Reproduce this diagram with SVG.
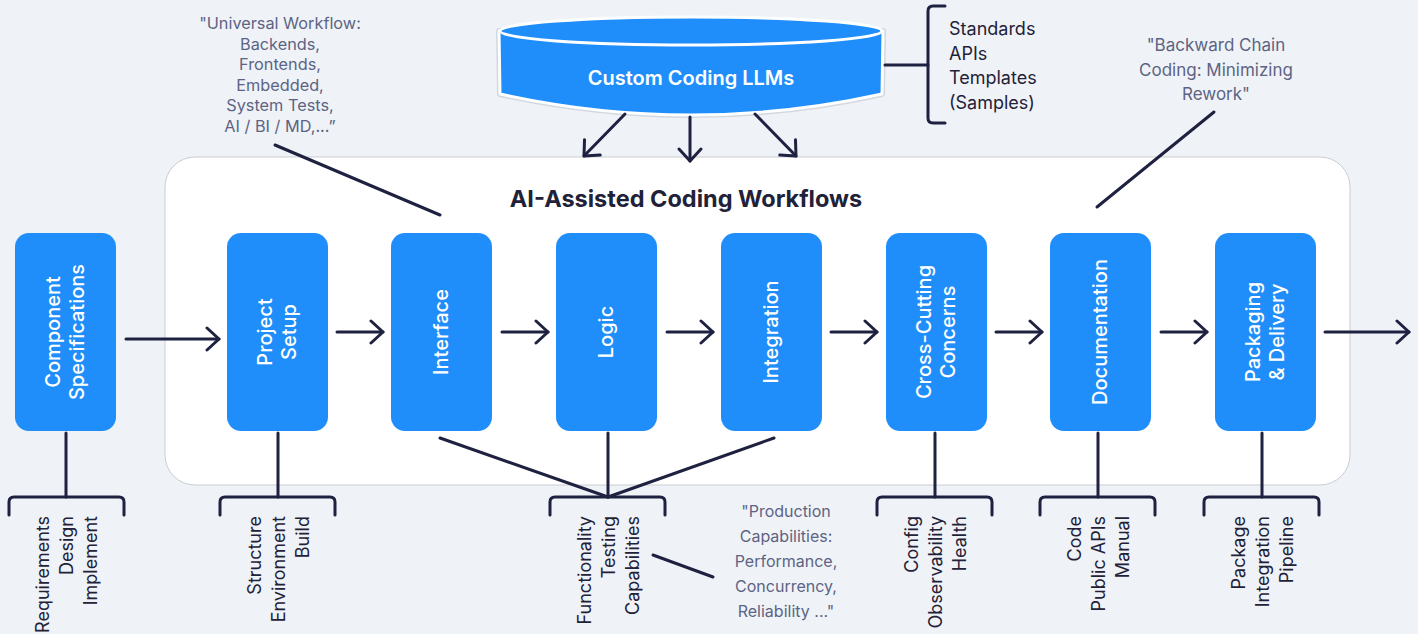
<svg xmlns="http://www.w3.org/2000/svg" width="1418" height="634" viewBox="0 0 1418 634">
<defs>
<style>
.bg{fill:#eff3f7}
.panel{fill:#ffffff;stroke:#c9cdd3;stroke-width:1}
.box{fill:#1f8efa}
.lbl{font-family:Inter,"Liberation Sans",sans-serif;font-size:20px;font-weight:500;fill:#ffffff}
.ln{stroke:#1f2140;stroke-width:3;fill:none;stroke-linecap:round;stroke-linejoin:round}
.arr{stroke:#1f2140;stroke-width:3;fill:none;stroke-linecap:round;marker-end:url(#ah)}
.sub{font-family:Inter,"Liberation Sans",sans-serif;font-size:18px;fill:#1f2238}
.note{font-family:Inter,"Liberation Sans",sans-serif;fill:#5d6384}
.title{font-family:Inter,"Liberation Sans",sans-serif;font-size:23.5px;font-weight:700;fill:#1f2238}
</style>
<marker id="ah" viewBox="-14 -14 17 28" markerWidth="17" markerHeight="28" refX="0" refY="0" orient="auto" markerUnits="userSpaceOnUse">
<path d="M-12,-11 L0,0 L-12,11" fill="none" stroke="#1f2140" stroke-width="3" stroke-linecap="round" stroke-linejoin="round"/>
</marker>
</defs>
<rect class="bg" x="0" y="0" width="1418" height="634"/>
<g id="panel">
<rect class="panel" x="165" y="157" width="1185" height="328" rx="30"/>
<text class="title" x="686" y="207" text-anchor="middle">AI-Assisted Coding Workflows</text>
</g>
<g id="llm">
<path d="M499,31 L500,94 Q691,136 882,94 L883,31 Z" fill="#1f8efa" stroke="#d3d8df" stroke-width="6" stroke-linejoin="round"/>
<path d="M499,31 L500,94 Q691,136 882,94 L883,31 Z" fill="#1f8efa" stroke="#ffffff" stroke-width="3" stroke-linejoin="round"/>
<ellipse cx="691" cy="31" rx="191" ry="14" fill="#1f8efa" stroke="#ffffff" stroke-width="3"/>
<text x="691" y="85" text-anchor="middle" font-family="Inter,'Liberation Sans',sans-serif" font-size="20" font-weight="600" fill="#ffffff">Custom Coding LLMs</text>
</g>
<g id="resources">
<path class="ln" d="M945,6 H933 Q928,6 928,11 V118 Q928,123 933,123 H945"/>
<text class="sub"><tspan x="949" y="35">Standards</tspan><tspan x="949" y="60">APIs</tspan><tspan x="949" y="84">Templates</tspan><tspan x="949" y="109">(Samples)</tspan></text>
</g>
<g id="note-universal">
<text class="note" font-size="16.3" text-anchor="middle"><tspan x="280" y="29">"Universal Workflow:</tspan><tspan x="280" y="50">Backends,</tspan><tspan x="280" y="70">Frontends,</tspan><tspan x="280" y="91">Embedded,</tspan><tspan x="280" y="111">System Tests,</tspan><tspan x="280" y="132">AI / BI / MD,...”</tspan></text>
</g>
<g id="note-backward">
<text class="note" font-size="17" text-anchor="middle"><tspan x="1216" y="51">"Backward Chain</tspan><tspan x="1216" y="76">Coding: Minimizing</tspan><tspan x="1216" y="100">Rework"</tspan></text>
</g>
<g id="note-production">
<text class="note" font-size="16" text-anchor="middle"><tspan x="786" y="517">"Production</tspan><tspan x="786" y="542">Capabilities:</tspan><tspan x="786" y="567">Performance,</tspan><tspan x="786" y="592">Concurrency,</tspan><tspan x="786" y="617">Reliability ..."</tspan></text>
</g>
<g id="n-spec">
<rect class="box" x="15" y="233" width="101" height="198" rx="14"/>
<text class="lbl" transform="translate(65.5,332) rotate(-90)" text-anchor="middle"><tspan x="0" y="-5.5">Component</tspan><tspan x="0" y="18.5">Specifications</tspan></text>
</g>
<g id="n-setup">
<rect class="box" x="227" y="233" width="101" height="198" rx="14"/>
<text class="lbl" transform="translate(277.5,332) rotate(-90)" text-anchor="middle"><tspan x="0" y="-5.5">Project</tspan><tspan x="0" y="18.5">Setup</tspan></text>
</g>
<g id="n-interface">
<rect class="box" x="391" y="233" width="101" height="198" rx="14"/>
<text class="lbl" transform="translate(441.5,332) rotate(-90)" text-anchor="middle" y="6.5">Interface</text>
</g>
<g id="n-logic">
<rect class="box" x="556" y="233" width="101" height="198" rx="14"/>
<text class="lbl" transform="translate(606.5,332) rotate(-90)" text-anchor="middle" y="6.5">Logic</text>
</g>
<g id="n-integration">
<rect class="box" x="721" y="233" width="101" height="198" rx="14"/>
<text class="lbl" transform="translate(771.5,332) rotate(-90)" text-anchor="middle" y="6.5">Integration</text>
</g>
<g id="n-cross">
<rect class="box" x="886" y="233" width="101" height="198" rx="14"/>
<text class="lbl" transform="translate(936.5,332) rotate(-90)" text-anchor="middle"><tspan x="0" y="-5.5">Cross-Cutting</tspan><tspan x="0" y="18.5">Concerns</tspan></text>
</g>
<g id="n-doc">
<rect class="box" x="1050" y="233" width="101" height="198" rx="14"/>
<text class="lbl" transform="translate(1100.5,332) rotate(-90)" text-anchor="middle" y="6.5">Documentation</text>
</g>
<g id="n-pack">
<rect class="box" x="1215" y="233" width="101" height="198" rx="14"/>
<text class="lbl" transform="translate(1265.5,332) rotate(-90)" text-anchor="middle"><tspan x="0" y="-5.5">Packaging</tspan><tspan x="0" y="18.5">&amp; Delivery</tspan></text>
</g>
<g id="sub-spec">
<path class="ln" d="M9,515 V502 Q9,497 14,497 H119 Q124,497 124,502 V515"/>
<text class="sub" transform="translate(66,516) rotate(-90)" text-anchor="end"><tspan x="0" y="-17.5">Requirements</tspan><tspan x="0" y="6.5">Design</tspan><tspan x="0" y="30.5">Implement</tspan></text>
</g>
<g id="sub-setup">
<path class="ln" d="M220,515 V502 Q220,497 225,497 H330 Q335,497 335,502 V515"/>
<text class="sub" transform="translate(278,516) rotate(-90)" text-anchor="end"><tspan x="0" y="-17.5">Structure</tspan><tspan x="0" y="6.5">Environment</tspan><tspan x="0" y="30.5">Build</tspan></text>
</g>
<g id="sub-func">
<path class="ln" d="M550,515 V502 Q550,497 555,497 H660 Q665,497 665,502 V515"/>
<text class="sub" transform="translate(608,516) rotate(-90)" text-anchor="end"><tspan x="0" y="-17.5">Functionality</tspan><tspan x="0" y="6.5">Testing</tspan><tspan x="0" y="30.5">Capabilities</tspan></text>
</g>
<g id="sub-cross">
<path class="ln" d="M877,515 V502 Q877,497 882,497 H987 Q992,497 992,502 V515"/>
<text class="sub" transform="translate(935,516) rotate(-90)" text-anchor="end"><tspan x="0" y="-17.5">Config</tspan><tspan x="0" y="6.5">Observability</tspan><tspan x="0" y="30.5">Health</tspan></text>
</g>
<g id="sub-doc">
<path class="ln" d="M1040,515 V502 Q1040,497 1045,497 H1150 Q1155,497 1155,502 V515"/>
<text class="sub" transform="translate(1098,516) rotate(-90)" text-anchor="end"><tspan x="0" y="-17.5">Code</tspan><tspan x="0" y="6.5">Public APIs</tspan><tspan x="0" y="30.5">Manual</tspan></text>
</g>
<g id="sub-pack">
<path class="ln" d="M1204,515 V502 Q1204,497 1209,497 H1314 Q1319,497 1319,502 V515"/>
<text class="sub" transform="translate(1262,516) rotate(-90)" text-anchor="end"><tspan x="0" y="-17.5">Package</tspan><tspan x="0" y="6.5">Integration</tspan><tspan x="0" y="30.5">Pipeline</tspan></text>
</g>
<g id="connectors">
<line class="arr" x1="126" y1="339" x2="219" y2="339"/>
<line class="arr" x1="337" y1="332" x2="383" y2="332"/>
<line class="arr" x1="502" y1="332" x2="548" y2="332"/>
<line class="arr" x1="667" y1="332" x2="713" y2="332"/>
<line class="arr" x1="831" y1="332" x2="877" y2="332"/>
<line class="arr" x1="996" y1="332" x2="1042" y2="332"/>
<line class="arr" x1="1161" y1="332" x2="1207" y2="332"/>
<line class="arr" x1="1325" y1="332" x2="1409" y2="332"/>
<line class="arr" x1="625" y1="114" x2="584" y2="156"/>
<line class="arr" x1="690" y1="117" x2="690" y2="161"/>
<line class="arr" x1="755" y1="114" x2="796" y2="156"/>
<line class="ln" x1="885" y1="65" x2="928" y2="65"/>
<line class="ln" x1="66" y1="433" x2="66" y2="497"/>
<line class="ln" x1="278" y1="433" x2="278" y2="497"/>
<line class="ln" x1="440" y1="438" x2="608" y2="497"/>
<line class="ln" x1="608" y1="433" x2="608" y2="497"/>
<line class="ln" x1="774" y1="438" x2="608" y2="497"/>
<line class="ln" x1="935" y1="433" x2="935" y2="497"/>
<line class="ln" x1="1098" y1="433" x2="1098" y2="497"/>
<line class="ln" x1="1262" y1="433" x2="1262" y2="497"/>
<line class="ln" x1="275" y1="145" x2="440" y2="215"/>
<line class="ln" x1="1214" y1="112" x2="1097" y2="207"/>
<line class="ln" x1="653" y1="555" x2="713" y2="577"/>
</g>
</svg>
